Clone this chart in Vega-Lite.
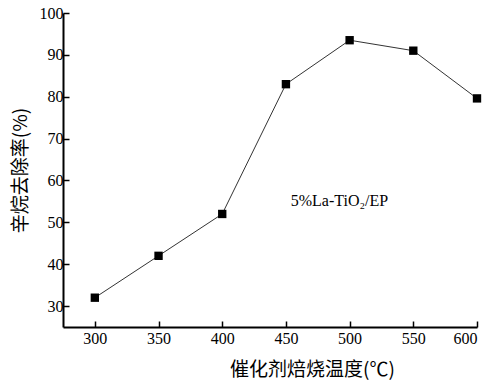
{
  "$schema": "https://vega.github.io/schema/vega-lite/v6.json",
  "width": 414,
  "height": 314,
  "autosize": {"type": "none"},
  "padding": {"left": 63, "top": 13, "right": 25, "bottom": 56},
  "background": "white",
  "config": {
    "view": {"stroke": null},
    "font": "Liberation Serif",
    "axis": {
      "domainColor": "black",
      "domainWidth": 2,
      "tickColor": "black",
      "tickWidth": 1.5,
      "tickSize": -6,
      "grid": false,
      "labelFont": "Liberation Serif",
      "labelFontSize": 16,
      "labelColor": "black",
      "titleFont": "Noto Sans CJK SC",
      "titleFontSize": 19,
      "titleFontWeight": "normal",
      "titleColor": "black"
    }
  },
  "layer": [
    {
      "data": {"values": [
        {"t": 300, "r": 32},
        {"t": 350, "r": 42},
        {"t": 400, "r": 52},
        {"t": 450, "r": 83},
        {"t": 500, "r": 93.5},
        {"t": 550, "r": 91},
        {"t": 600, "r": 79.6}
      ]},
      "mark": {"type": "line", "color": "#333333", "strokeWidth": 1, "point": {"shape": "square", "size": 70, "filled": true, "color": "black", "opacity": 1}},
      "encoding": {
        "x": {"field": "t", "type": "quantitative", "scale": {"domain": [275, 600], "nice": false, "zero": false},
              "axis": {"values": [300, 350, 400, 450, 500, 550, 600], "title": "催化剂焙烧温度(℃)", "labelPadding": 9, "titlePadding": 14, "titleX": 249}},
        "y": {"field": "r", "type": "quantitative", "scale": {"domain": [25, 100], "nice": false, "zero": false},
              "axis": {"values": [30, 40, 50, 60, 70, 80, 90, 100], "title": "辛烷去除率(%)", "labelPadding": 6, "titlePadding": 9}}
      }
    },
    {
      "data": {"values": [{"t": 492, "r": 55, "label": "5%La-TiO₂/EP"}]},
      "mark": {"type": "text", "font": "Liberation Serif", "fontSize": 16, "color": "black", "align": "center", "baseline": "middle"},
      "encoding": {
        "x": {"field": "t", "type": "quantitative"},
        "y": {"field": "r", "type": "quantitative"},
        "text": {"field": "label"}
      }
    }
  ]
}
